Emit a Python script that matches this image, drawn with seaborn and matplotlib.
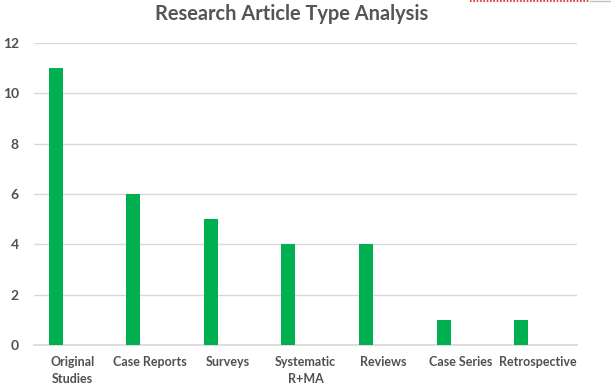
import matplotlib
matplotlib.use("Agg")
import matplotlib.pyplot as plt
import seaborn as sns
import numpy as np
import pandas as pd
from matplotlib.lines import Line2D

categories = ["Original\nStudies", "Case Reports", "Surveys", "Systematic\nR+MA",
              "Reviews", "Case Series", "Retrospective"]
counts = [11, 6, 5, 4, 4, 1, 1]
y_ticks = [0, 2, 4, 6, 8, 10, 12]

sns.set_theme(style="white")
plt.rcParams['font.family'] = ['Lato', 'DejaVu Sans']

fig = plt.figure(figsize=(6.11, 3.86), dpi=100)
ax = fig.add_axes([34/611, 1-345/386, (577-34)/611, (345-43)/386])

pos = np.arange(len(categories))
df = pd.DataFrame({"x": pos - 0.22, "count": counts})
sns.barplot(data=df, x="x", y="count", native_scale=True, width=0.18,
            color="#00B050", saturation=1, ax=ax, zorder=3, linewidth=0)

ax.set_xlim(-0.5, len(categories) - 0.5)
ax.set_ylim(0, 12)
ax.set_yticks(y_ticks)
ax.set_yticklabels([str(t) for t in y_ticks])
ax.set_xticks(pos)
ax.set_xticklabels(categories, linespacing=1.45)
ax.set_xlabel("")
ax.set_ylabel("")
ax.grid(axis="y", color="#d9d9d9", linewidth=1, zorder=0)
for s in ["top", "right", "left"]:
    ax.spines[s].set_visible(False)
ax.spines["bottom"].set_color("#d9d9d9")
ax.tick_params(axis="both", length=0, labelsize=9, labelcolor="#505050")
ax.tick_params(axis="y", pad=11, labelsize=10)
ax.tick_params(axis="x", pad=8)
for lbl in ax.get_xticklabels():
    lbl.set_verticalalignment("top")
    lbl.set_fontweight("bold")
for lbl in ax.get_yticklabels():
    lbl.set_fontweight("bold")

fig.text(292/611, 1-14/386, "Research Article Type Analysis", ha="center", va="center",
         fontsize=14.4, fontweight="bold", color="#555555")

fig.add_artist(Line2D([470/611, 590/611], [1-1/386, 1-1/386], color="#e02020",
                      linestyle=(0, (1, 1)), linewidth=1.2))
fig.add_artist(Line2D([590/611, 1.0], [1-1/386, 1-1/386], color="#c0c0c0", linewidth=1))

fig.savefig("out.png", dpi=100)
